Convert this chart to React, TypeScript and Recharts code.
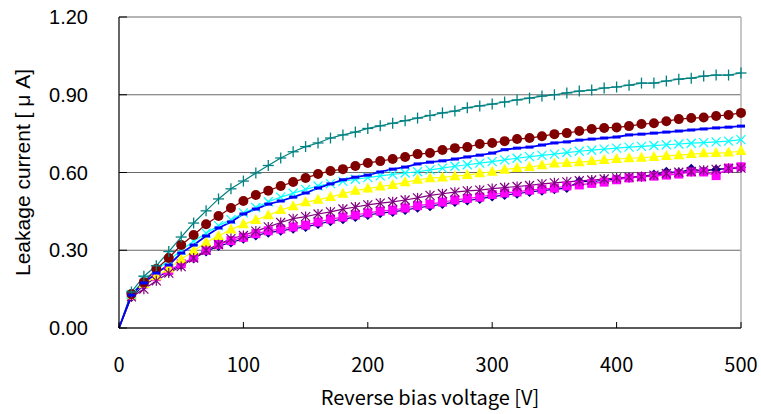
import React from 'react';
import { LineChart, Line, XAxis, YAxis, CartesianGrid, ReferenceLine } from 'recharts';

// reverse bias voltage [V]
const voltage = [
  0, 10, 20, 30, 40, 50, 60, 70, 80, 90, 100, 110, 120, 130, 140, 150, 160, 170, 180, 190, 200,
  210, 220, 230, 240, 250, 260, 270, 280, 290, 300, 310, 320, 330, 340, 350, 360, 370, 380, 390, 400,
  410, 420, 430, 440, 450, 460, 470, 480, 490, 500,
];

// leakage current [uA], one list per sample
const navy = [
  0, 0.12, 0.165, 0.195, 0.218, 0.243, 0.268, 0.295, 0.316, 0.33, 0.344, 0.357, 0.368, 0.375, 0.383, 0.39, 0.401, 0.412, 0.42, 0.428, 0.436,
  0.443, 0.448, 0.455, 0.464, 0.47, 0.478, 0.486, 0.492, 0.498, 0.507, 0.513, 0.518, 0.525, 0.53, 0.535, 0.54, 0.566, 0.565, 0.57, 0.575,
  0.58, 0.585, 0.592, 0.603, 0.6, 0.614, 0.605, 0.612, 0.615, 0.62,
];
const magenta = [
  0, 0.125, 0.17, 0.198, 0.222, 0.248, 0.272, 0.3, 0.322, 0.337, 0.35, 0.364, 0.375, 0.382, 0.39, 0.397, 0.409, 0.42, 0.428, 0.436, 0.444,
  0.451, 0.455, 0.463, 0.472, 0.478, 0.486, 0.494, 0.5, 0.505, 0.515, 0.521, 0.525, 0.532, 0.536, 0.54, 0.548, 0.552, 0.558, 0.563, 0.572,
  0.579, 0.583, 0.586, 0.59, 0.594, 0.602, 0.602, 0.588, 0.617, 0.622,
];
const yellow = [
  0, 0.125, 0.17, 0.2, 0.23, 0.265, 0.297, 0.33, 0.355, 0.38, 0.4, 0.417, 0.435, 0.455, 0.47, 0.485, 0.495, 0.505, 0.518, 0.53, 0.538,
  0.546, 0.552, 0.562, 0.572, 0.578, 0.581, 0.586, 0.59, 0.597, 0.603, 0.611, 0.617, 0.621, 0.628, 0.635, 0.637, 0.64, 0.644, 0.648, 0.652,
  0.655, 0.657, 0.66, 0.664, 0.667, 0.671, 0.674, 0.675, 0.677, 0.683,
];
const cyan = [
  0, 0.13, 0.185, 0.225, 0.26, 0.3, 0.335, 0.366, 0.395, 0.418, 0.444, 0.465, 0.487, 0.505, 0.52, 0.535, 0.548, 0.557, 0.566, 0.574, 0.58,
  0.587, 0.593, 0.598, 0.603, 0.61, 0.617, 0.624, 0.63, 0.636, 0.642, 0.649, 0.655, 0.661, 0.666, 0.671, 0.677, 0.682, 0.686, 0.69, 0.694,
  0.698, 0.701, 0.704, 0.707, 0.71, 0.713, 0.715, 0.718, 0.721, 0.727,
];
const purple = [
  0, 0.12, 0.15, 0.182, 0.212, 0.237, 0.27, 0.3, 0.322, 0.345, 0.357, 0.374, 0.39, 0.407, 0.422, 0.43, 0.44, 0.448, 0.459, 0.467, 0.475,
  0.482, 0.487, 0.494, 0.502, 0.512, 0.518, 0.524, 0.529, 0.532, 0.538, 0.542, 0.546, 0.55, 0.556, 0.56, 0.564, 0.568, 0.571, 0.575, 0.579,
  0.582, 0.584, 0.59, 0.596, 0.601, 0.604, 0.609, 0.612, 0.616, 0.617,
];
const darkRed = [
  0, 0.131, 0.177, 0.228, 0.27, 0.32, 0.359, 0.4, 0.432, 0.463, 0.49, 0.513, 0.53, 0.548, 0.563, 0.579, 0.594, 0.606, 0.613, 0.625, 0.637,
  0.644, 0.652, 0.66, 0.671, 0.675, 0.687, 0.694, 0.698, 0.71, 0.714, 0.721, 0.729, 0.733, 0.74, 0.748, 0.752, 0.76, 0.768, 0.772, 0.774,
  0.779, 0.787, 0.79, 0.798, 0.806, 0.81, 0.812, 0.818, 0.822, 0.83,
];
const teal = [
  0, 0.139, 0.2, 0.24, 0.295, 0.351, 0.405, 0.452, 0.498, 0.537, 0.567, 0.598, 0.627, 0.656, 0.68, 0.7, 0.714, 0.733, 0.745, 0.756, 0.77,
  0.78, 0.79, 0.8, 0.81, 0.82, 0.83, 0.837, 0.85, 0.857, 0.864, 0.872, 0.88, 0.887, 0.895, 0.9, 0.907, 0.914, 0.918, 0.926, 0.93,
  0.937, 0.945, 0.945, 0.953, 0.96, 0.964, 0.972, 0.976, 0.976, 0.984,
];
const blue = [
  0, 0.127, 0.174, 0.212, 0.243, 0.289, 0.32, 0.355, 0.386, 0.409, 0.44, 0.459, 0.478, 0.49, 0.505, 0.521, 0.54, 0.556, 0.572, 0.582, 0.59,
  0.602, 0.613, 0.621, 0.633, 0.64, 0.645, 0.652, 0.66, 0.667, 0.675, 0.688, 0.694, 0.698, 0.706, 0.714, 0.718, 0.725, 0.729, 0.733, 0.737,
  0.745, 0.748, 0.752, 0.756, 0.76, 0.764, 0.768, 0.772, 0.775, 0.779,
];

const xTicks = [0, 100, 200, 300, 400, 500];
const yTicks = [0, 0.3, 0.6, 0.9, 1.2];

const data = voltage.map((v, i) => ({
  v,
  navy: navy[i],
  magenta: magenta[i],
  yellow: yellow[i],
  cyan: cyan[i],
  purple: purple[i],
  darkRed: darkRed[i],
  teal: teal[i],
  blue: blue[i],
}));

type Shape = 'diamond' | 'square' | 'triangle' | 'x' | 'star' | 'circle' | 'plus' | 'dash';

const marker = (shape: Shape, color: string) => (props: any) => {
  const { cx, cy, index } = props;
  const k = `${shape}-${index}`;
  if (index === 0 || cx == null || cy == null) return <g key={k} />;
  switch (shape) {
    case 'diamond':
      return <polygon key={k} points={`${cx},${cy - 5} ${cx + 5},${cy} ${cx},${cy + 5} ${cx - 5},${cy}`} fill={color} />;
    case 'square':
      return <rect key={k} x={cx - 4.5} y={cy - 4.5} width={9} height={9} fill={color} />;
    case 'triangle':
      return <polygon key={k} points={`${cx},${cy - 6} ${cx + 5.5},${cy + 4} ${cx - 5.5},${cy + 4}`} fill={color} />;
    case 'x':
      return (
        <g key={k} stroke={color} strokeWidth={1.2}>
          <line x1={cx - 4.5} y1={cy - 4.5} x2={cx + 4.5} y2={cy + 4.5} />
          <line x1={cx - 4.5} y1={cy + 4.5} x2={cx + 4.5} y2={cy - 4.5} />
        </g>
      );
    case 'star':
      return (
        <g key={k} stroke={color} strokeWidth={1.2}>
          <line x1={cx - 4.5} y1={cy - 4.5} x2={cx + 4.5} y2={cy + 4.5} />
          <line x1={cx - 4.5} y1={cy + 4.5} x2={cx + 4.5} y2={cy - 4.5} />
          <line x1={cx} y1={cy - 5} x2={cx} y2={cy + 5} />
        </g>
      );
    case 'circle':
      return <circle key={k} cx={cx} cy={cy} r={5} fill={color} />;
    case 'plus':
      return (
        <g key={k} stroke={color} strokeWidth={1.3}>
          <line x1={cx - 5.5} y1={cy} x2={cx + 5.5} y2={cy} />
          <line x1={cx} y1={cy - 5.5} x2={cx} y2={cy + 5.5} />
        </g>
      );
    default:
      return <rect key={k} x={cx - 4} y={cy - 1.5} width={8} height={3} fill={color} />;
  }
};

const series: { key: string; color: string; shape: Shape; width: number }[] = [
  { key: 'navy', color: '#000080', shape: 'diamond', width: 1.2 },
  { key: 'magenta', color: '#FF00FF', shape: 'square', width: 1.2 },
  { key: 'yellow', color: '#FFFF00', shape: 'triangle', width: 1.2 },
  { key: 'cyan', color: '#00FFFF', shape: 'x', width: 1.2 },
  { key: 'purple', color: '#800080', shape: 'star', width: 1.2 },
  { key: 'darkRed', color: '#800000', shape: 'circle', width: 1.2 },
  { key: 'teal', color: '#008080', shape: 'plus', width: 1.2 },
  { key: 'blue', color: '#0000FF', shape: 'dash', width: 1.8 },
];

const YTitle = (props: any) => {
  const vb = props.viewBox || { y: 17, height: 311 };
  const cy = vb.y + vb.height / 2;
  return (
    <text
      x={22}
      y={cy}
      transform={`rotate(-90, 22, ${cy})`}
      textAnchor="middle"
      dominantBaseline="central"
      fontFamily="'Liberation Sans', Arial, sans-serif"
      fontSize={21}
      fill="#000"
    >
      Leakage current [ μ A]
    </text>
  );
};

export default function App() {
  return (
    <div style={{ position: 'absolute', left: 0, top: 0, width: 761, height: 414, background: '#fff' }}>
      <LineChart width={761} height={414} data={data} margin={{ top: 17, right: 20, left: 0, bottom: 0 }}>
        <CartesianGrid horizontal vertical={false} stroke="#6a6a6a" strokeWidth={1} />
        <XAxis
          dataKey="v"
          type="number"
          domain={[0, 500]}
          ticks={xTicks}
          height={86}
          tickSize={-6}
          tickMargin={36}
          axisLine={{ stroke: '#000', strokeWidth: 1.2 }}
          tickLine={{ stroke: '#000' }}
          tick={{ fill: '#000', fontSize: 20, fontFamily: "'Noto Sans CJK JP', sans-serif" }}
          label={{
            value: 'Reverse bias voltage [V]',
            position: 'insideBottom',
            offset: 9,
            fill: '#000',
            fontSize: 20,
            fontFamily: "'Noto Sans CJK JP', sans-serif",
          }}
        />
        <YAxis
          type="number"
          domain={[0, 1.2]}
          ticks={yTicks}
          width={119}
          tickSize={-8}
          tickMargin={39}
          axisLine={{ stroke: '#000', strokeWidth: 1.2 }}
          tickLine={{ stroke: '#000' }}
          tickFormatter={(v: number) => v.toFixed(2)}
          tick={{ fill: '#000', fontSize: 20, fontFamily: "'Liberation Sans', Arial, sans-serif" }}
          label={(p: any) => <YTitle {...p} />}
        />
        <ReferenceLine x={500} stroke="#b4b4b4" strokeWidth={1.5} />
        {series.map((s) => (
          <Line
            key={s.key}
            type="linear"
            dataKey={s.key}
            stroke={s.color}
            strokeWidth={s.width}
            dot={marker(s.shape, s.color)}
            activeDot={false}
            isAnimationActive={false}
          />
        ))}
      </LineChart>
    </div>
  );
}
